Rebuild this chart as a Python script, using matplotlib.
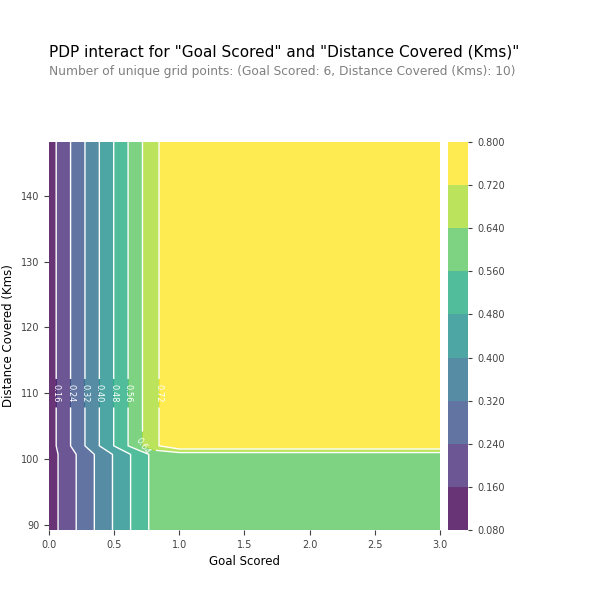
import numpy as np
import matplotlib

matplotlib.use("Agg")
import matplotlib.pyplot as plt
from matplotlib.colors import BoundaryNorm

goal_grid = [0.0, 0.8, 1.0, 1.5, 2.0, 3.0]
dist_grid = [89.2, 95.0, 100.7, 102.0, 110.0, 118.0, 126.0, 134.0, 141.0, 148.2]
low_row = [0.12, 0.58, 0.60, 0.60, 0.60, 0.60]
high_row = [0.12, 0.70, 0.79, 0.79, 0.79, 0.79]
pdp = np.array([low_row] * 3 + [high_row] * 7)
levels = [0.08, 0.16, 0.24, 0.32, 0.40, 0.48, 0.56, 0.64, 0.72, 0.80]

fig = plt.figure(figsize=(5.9, 6.01), dpi=100)
fig.text(49 / 590, 1 - 52 / 601, 'PDP interact for "Goal Scored" and "Distance Covered (Kms)"',
         fontsize=11, va="center")
fig.text(49 / 590, 1 - 72 / 601,
         "Number of unique grid points: (Goal Scored: 6, Distance Covered (Kms): 10)",
         fontsize=8.8, color="grey", va="center")

ax = fig.add_axes([49 / 590, 1 - 530 / 601, 391 / 590, 388 / 601])
cax = fig.add_axes([448 / 590, 1 - 530 / 601, 20 / 590, 388 / 601])

X, Y = np.meshgrid(goal_grid, dist_grid)
cmap = plt.get_cmap("viridis")
norm = BoundaryNorm(levels, cmap.N)
cf = ax.contourf(X, Y, pdp, levels=levels, cmap=cmap, norm=norm, alpha=0.8)
cs = ax.contour(X, Y, pdp, levels=levels[1:-1], colors="white", linewidths=1)
ax.clabel(cs, fmt="%.2f", fontsize=6, colors="white", inline=True)

for s in ax.spines.values():
    s.set_visible(False)
ax.tick_params(labelsize=7, colors="#424242")
ax.set_xlabel("Goal Scored", fontsize=8.5)
ax.set_ylabel("Distance Covered (Kms)", fontsize=8.5)
ax.set_xlim(0, 3)
ax.set_ylim(89.2, 148.2)

cb = fig.colorbar(cf, cax=cax, ticks=levels, format="%.3f")
cb.outline.set_visible(False)
cax.tick_params(labelsize=7, colors="#424242", length=3)

fig.savefig("out.png", dpi=100)
